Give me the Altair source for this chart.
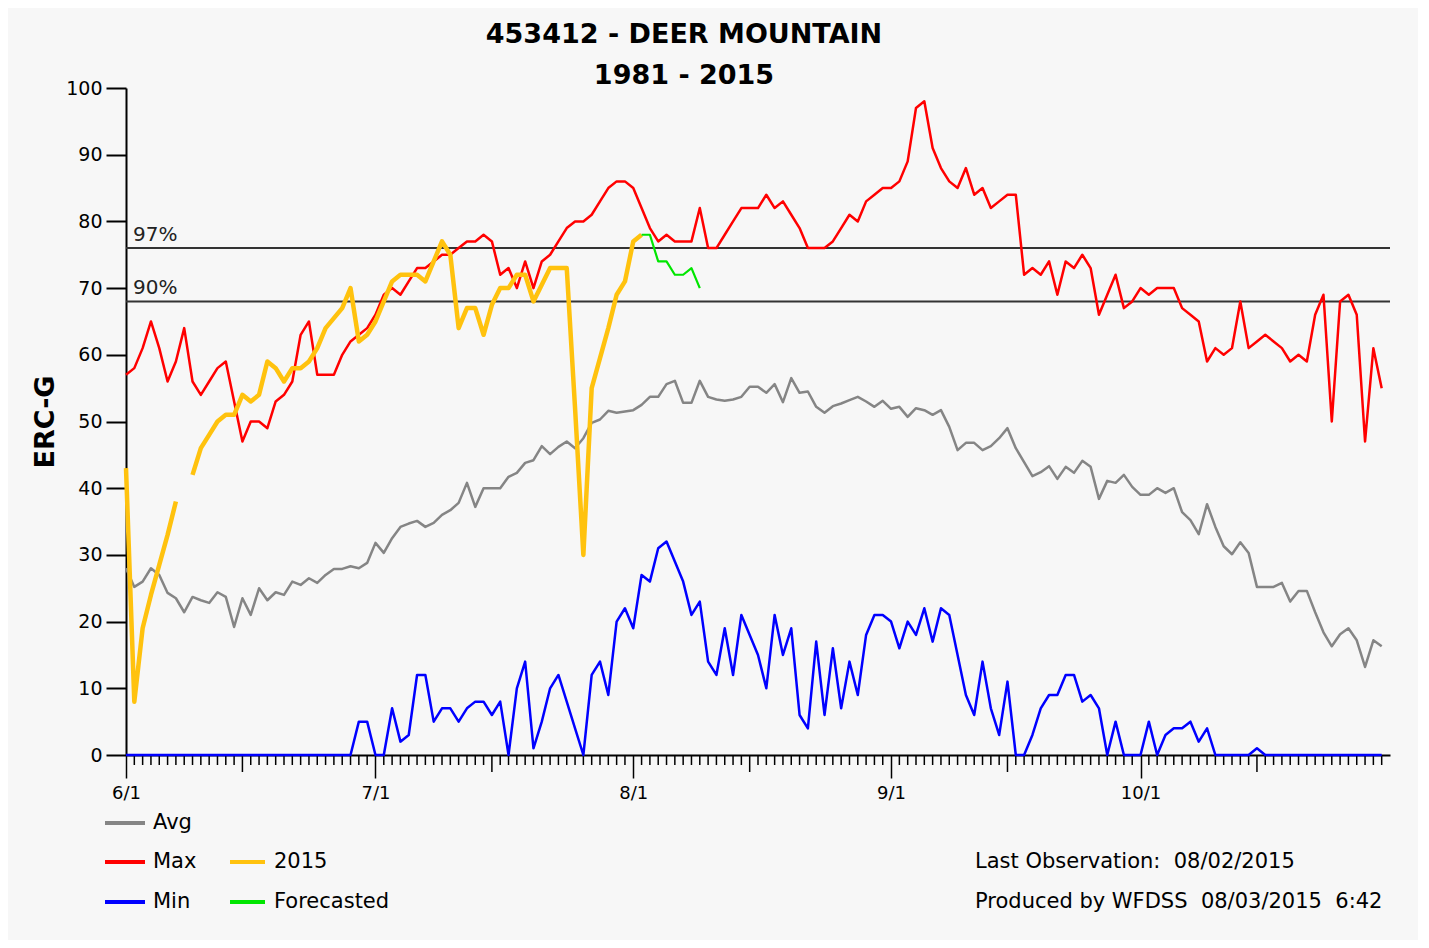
import altair as alt
import pandas as pd

FONT = "DejaVu Sans"
W, H = 1264, 667
X_MAX = 152

# ---- data (day index 0 = 6/1) ----
max_vals = [57, 58, 61, 65, 61, 56, 59, 64, 56, 54,
            56, 58, 59, 53, 47, 50, 50, 49, 53, 54,
            56, 63, 65, 57, 57, 57, 60, 62, 63, 64,
            66, 69, 70, 69, 71, 73, 73, 74, 75, 75,
            76, 77, 77, 78, 77, 72, 73, 70, 74, 70,
            74, 75, 77, 79, 80, 80, 81, 83, 85, 86,
            86, 85, 82, 79, 77, 78, 77, 77, 77, 82,
            76, 76, 78, 80, 82, 82, 82, 84, 82, 83,
            81, 79, 76, 76, 76, 77, 79, 81, 80, 83,
            84, 85, 85, 86, 89, 97, 98, 91, 88, 86,
            85, 88, 84, 85, 82, 83, 84, 84, 72, 73,
            72, 74, 69, 74, 73, 75, 73, 66, 69, 72,
            67, 68, 70, 69, 70, 70, 70, 67, 66, 65,
            59, 61, 60, 61, 68, 61, 62, 63, 62, 61,
            59, 60, 59, 66, 69, 50, 68, 69, 66, 47,
            61, 55]

avg_vals = [28, 25.2, 26, 28, 27, 24.3, 23.5, 21.4, 23.7, 23.2,
            22.8, 24.4, 23.7, 19.2, 23.5, 21, 25, 23.2, 24.4, 24,
            26, 25.5, 26.5, 25.8, 27, 27.9, 27.9, 28.3, 28, 28.8,
            31.8, 30.3, 32.5, 34.2, 34.7, 35.1, 34.2, 34.8, 36, 36.7,
            37.8, 40.8, 37.2, 40, 40, 40, 41.7, 42.3, 43.8, 44.2,
            46.3, 45.1, 46.2, 47, 46, 47.5, 49.8, 50.3, 51.6, 51.3,
            51.5, 51.7, 52.5, 53.7, 53.7, 55.6, 56.1, 52.8, 52.8, 56.1,
            53.7, 53.3, 53.1, 53.3, 53.7, 55.2, 55.2, 54.3, 55.6, 52.9,
            56.5, 54.3, 54.5, 52.2, 51.3, 52.3, 52.7, 53.2, 53.7, 53,
            52.2, 53.1, 51.9, 52.2, 50.7, 52, 51.7, 51, 51.7, 49.2,
            45.7, 46.8, 46.8, 45.7, 46.3, 47.5, 49, 46, 43.9, 41.8,
            42.4, 43.3, 41.4, 43.2, 42.3, 44.1, 43.2, 38.4, 41.1, 40.8,
            42, 40.2, 39, 39, 40, 39.3, 40, 36.4, 35.2, 33.1,
            37.6, 34.2, 31.3, 30.1, 31.9, 30.3, 25.2, 25.2, 25.2, 25.8,
            23, 24.6, 24.6, 21.4, 18.4, 16.3, 18.1, 19, 17.2, 13.2,
            17.2, 16.3]

min_vals = [0, 0, 0, 0, 0, 0, 0, 0, 0, 0,
            0, 0, 0, 0, 0, 0, 0, 0, 0, 0,
            0, 0, 0, 0, 0, 0, 0, 0, 5, 5,
            0, 0, 7, 2, 3, 12, 12, 5, 7, 7,
            5, 7, 8, 8, 6, 8, 0, 10, 14, 1,
            5, 10, 12, 8, 4, 0, 12, 14, 9, 20,
            22, 19, 27, 26, 31, 32, 29, 26, 21, 23,
            14, 12, 19, 12, 21, 18, 15, 10, 21, 15,
            19, 6, 4, 17, 6, 16, 7, 14, 9, 18,
            21, 21, 20, 16, 20, 18, 22, 17, 22, 21,
            15, 9, 6, 14, 7, 3, 11, 0, 0, 3,
            7, 9, 9, 12, 12, 8, 9, 7, 0, 5,
            0, 0, 0, 5, 0, 3, 4, 4, 5, 2,
            4, 0, 0, 0, 0, 0, 1, 0, 0, 0,
            0, 0, 0, 0, 0, 0, 0, 0, 0, 0,
            0, 0]

obs_2015 = [43, 8, 19, 24, 28.5, 33, 38, None, 42, 46,
            48, 50, 51, 51, 54, 53, 54, 59, 58, 56,
            58, 58, 59, 61, 64, 65.5, 67, 70, 62, 63,
            65, 68, 71, 72, 72, 72, 71, 74, 77, 75,
            64, 67, 67, 63, 67.5, 70, 70, 72, 72, 68,
            70.5, 73, 73, 73, 52, 30, 55, 59.5, 64, 69,
            71, 77, 78]

forecast_start = 62
forecast_vals = [78, 78, 74, 74, 72, 72, 73, 70]

month_days = [0, 30, 61, 92, 122]
month_labels = ["6/1", "7/1", "8/1", "9/1", "10/1"]
mid_days = [14, 44, 75, 106, 136]
last_tick_day = 151

thresholds = [76, 68]
threshold_labels = ["97%", "90%"]

title_lines = ["453412 - DEER MOUNTAIN", "1981 - 2015"]
footer_lines = ["Last Observation:\u00a0\u00a008/02/2015",
                "Produced by WFDSS\u00a0\u00a008/03/2015\u00a0\u00a06:42"]


def series_df(vals, start=0):
    rows, seg = [], 0
    for i, v in enumerate(vals):
        if v is None:
            seg += 1
            continue
        rows.append({"day": start + i, "value": v, "seg": seg})
    return pd.DataFrame(rows)


avg_df = series_df(avg_vals)
max_df = series_df(max_vals)
min_df = series_df(min_vals)
obs_df = series_df(obs_2015)
fc_df = series_df(forecast_vals, forecast_start)

minor_df = pd.DataFrame({"day": [d for d in range(last_tick_day + 1)
                                 if d not in month_days and d not in mid_days]})
mid_df = pd.DataFrame({"day": mid_days})
thr_df = pd.DataFrame({"value": thresholds, "label": threshold_labels})

label_expr = " : ".join(f"datum.value == {d} ? '{l}'" for d, l in zip(month_days, month_labels)) + " : ''"

xs = alt.Scale(domain=[0, X_MAX], nice=False, zero=False)
ys = alt.Scale(domain=[0, 100], nice=False, zero=True)

x_enc = alt.X("day:Q", scale=xs, title=None,
              axis=alt.Axis(values=month_days, labelExpr=label_expr, tickSize=23,
                            tickWidth=1.5, tickColor="black", domainColor="black",
                            domainWidth=2, labelFont=FONT, labelFontSize=18,
                            labelColor="black", labelPadding=6, grid=False,
                            labelFlush=False))
y_enc = alt.Y("value:Q", scale=ys, title="ERC-G",
              axis=alt.Axis(values=list(range(0, 101, 10)), tickSize=20, tickWidth=2,
                            tickColor="black", domainColor="black", domainWidth=2,
                            labelFont=FONT, labelFontSize=19, labelColor="black",
                            labelPadding=4, grid=False, titleFont=FONT,
                            titleFontSize=27, titleFontWeight="bold",
                            titleColor="black", titleX=-81, titleY=H / 2,
                            titleAngle=270, titleAlign="center",
                            titleBaseline="middle"))


def line(df, color, width):
    return alt.Chart(df).mark_line(color=color, strokeWidth=width, strokeJoin="round").encode(
        x=x_enc, y=y_enc, detail="seg:N")


thr_rules = alt.Chart(thr_df).mark_rule(color="#333333", strokeWidth=2).encode(y=y_enc)
thr_text = alt.Chart(thr_df).mark_text(align="left", baseline="bottom", font=FONT,
                                       fontSize=20, color="#222222", dy=-3).encode(
    x=alt.value(7), y=y_enc, text="label:N")

minor_ticks = alt.Chart(minor_df).mark_rule(color="black", strokeWidth=1.5).encode(
    x=x_enc, y=alt.value(H), y2=alt.value(H + 10))
mid_ticks = alt.Chart(mid_df).mark_rule(color="black", strokeWidth=1.5).encode(
    x=x_enc, y=alt.value(H), y2=alt.value(H + 17))

layers = [thr_rules, thr_text, minor_ticks, mid_ticks,
          line(avg_df, "#858585", 2.5),
          line(max_df, "#FF0000", 2.5),
          line(min_df, "#0000FF", 2.5),
          line(obs_df, "#FFC20E", 4.5),
          line(fc_df, "#00E600", 2.2)]

one = alt.Data(values=[{}])


def txt(s, x, y, size, bold=False, align="left"):
    return alt.Chart(one).mark_text(text=s, font=FONT, fontSize=size,
                                    fontWeight="bold" if bold else "normal",
                                    align=align, baseline="middle", color="black").encode(
        x=alt.value(x), y=alt.value(y))


def legend_line(color, x1, x2, y):
    return alt.Chart(one).mark_rule(color=color, strokeWidth=4).encode(
        x=alt.value(x1), x2=alt.value(x2), y=alt.value(y))


layers += [
    txt(title_lines[0], 558, -53, 27, bold=True, align="center"),
    txt(title_lines[1], 558, -12, 27, bold=True, align="center"),
    legend_line("#858585", -21, 19, 735), txt("Avg", 27, 735, 21),
    legend_line("#FF0000", -21, 19, 774), txt("Max", 27, 774, 21),
    legend_line("#0000FF", -21, 19, 814), txt("Min", 27, 814, 21),
    legend_line("#FFC20E", 104, 139, 774), txt("2015", 148, 774, 21),
    legend_line("#00E600", 104, 139, 814), txt("Forecasted", 148, 814, 21),
    txt(footer_lines[0], 849, 774, 21),
    txt(footer_lines[1], 849, 814, 21),
]

chart = alt.layer(*layers).properties(
    width=W, height=H, background="#F7F7F7",
    autosize=alt.AutoSizeParams(type="none"),
    padding={"left": 118, "top": 80, "right": 28, "bottom": 185},
).configure_view(stroke=None)

chart.save("out.html", embed_options={"renderer": "svg", "actions": False})
